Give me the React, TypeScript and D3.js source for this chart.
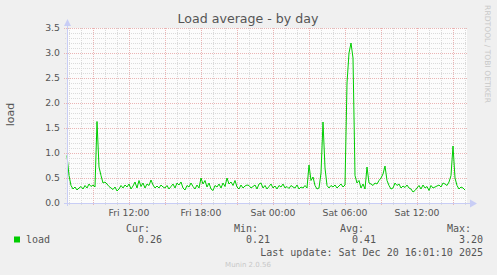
import React from "react";
import * as d3 from "d3";

const W = 497;
const H = 275;

const startTime = new Date(2025, 11, 19, 6, 50, 0);
const endTime = new Date(2025, 11, 20, 16, 10, 0);
const stepMinutes = 10;

const loadValues: number[] = [
  0.95, 0.55, 0.35, 0.28, 0.32, 0.26, 0.30, 0.33, 0.28, 0.35,
  0.30, 0.38, 0.33, 0.36, 0.32, 1.63, 0.72, 0.55, 0.40, 0.42,
  0.38, 0.33, 0.30, 0.27, 0.32, 0.24, 0.28, 0.35, 0.30, 0.36,
  0.32, 0.38, 0.28, 0.34, 0.42, 0.30, 0.45, 0.33, 0.40, 0.30,
  0.38, 0.35, 0.46, 0.36, 0.30, 0.34, 0.30, 0.36, 0.32, 0.30,
  0.35, 0.28, 0.33, 0.38, 0.30, 0.40, 0.36, 0.42, 0.30, 0.26,
  0.35, 0.32, 0.40, 0.33, 0.28, 0.36, 0.30, 0.50, 0.38, 0.45,
  0.32, 0.40, 0.28, 0.25, 0.35, 0.32, 0.38, 0.30, 0.40, 0.33,
  0.50, 0.38, 0.42, 0.35, 0.45, 0.32, 0.28, 0.36, 0.30, 0.34,
  0.36, 0.35, 0.30, 0.33, 0.36, 0.28, 0.38, 0.40, 0.30, 0.35,
  0.28, 0.33, 0.38, 0.30, 0.34, 0.28, 0.35, 0.32, 0.38, 0.30,
  0.33, 0.29, 0.35, 0.32, 0.30, 0.36, 0.28, 0.32, 0.30, 0.35,
  0.30, 0.76, 0.45, 0.52, 0.35, 0.28, 0.30, 0.60, 1.62, 0.70,
  0.35, 0.30, 0.35, 0.32, 0.36, 0.30, 0.34, 0.38, 0.32, 0.36,
  2.40, 3.00, 3.20, 2.90, 0.55, 0.40, 0.45, 0.30, 0.38, 0.28,
  0.72, 0.40, 0.38, 0.35, 0.40, 0.38, 0.45, 0.50, 0.58, 0.74,
  0.45, 0.35, 0.28, 0.30, 0.40, 0.35, 0.38, 0.30, 0.34, 0.31,
  0.36, 0.30, 0.28, 0.22, 0.25, 0.30, 0.35, 0.28, 0.36, 0.30,
  0.33, 0.25, 0.35, 0.30, 0.32, 0.34, 0.36, 0.32, 0.40, 0.38,
  0.35, 0.42, 0.55, 1.14, 0.50, 0.35, 0.28, 0.32, 0.30, 0.26,
];

const yTicks = [0.0, 0.5, 1.0, 1.5, 2.0, 2.5, 3.0, 3.5];
const xTickLabels = ["Fri 12:00", "Fri 18:00", "Sat 00:00", "Sat 06:00", "Sat 12:00"];
const legendHeaders = ["Cur:", "Min:", "Avg:", "Max:"];
const legendValues = ["0.26", "0.21", "0.41", "3.20"];
const titleText = "Load average - by day";
const lastUpdate = "Last update: Sat Dec 20 16:01:10 2025";

const SANS = "'DejaVu Sans', sans-serif";
const MONO = "'DejaVu Sans Mono', monospace";
const TEXT = "#555555";
const GREEN = "#00cc00";
const AXIS = "#c8cdf5";

export default function App() {
  const left = 67, right = 467, top = 28, bottom = 203;
  const x = d3.scaleTime().domain([startTime, endTime]).range([left, right]);
  const y = d3.scaleLinear().domain([0, 3.5]).range([bottom, top]);

  const points = loadValues.map((v, i) => ({
    t: new Date(startTime.getTime() + i * stepMinutes * 60000),
    v,
  }));
  const line = d3
    .line<{ t: Date; v: number }>()
    .x((d) => x(d.t))
    .y((d) => y(d.v));

  const hourTicks = d3.timeHour.every(1)!.range(startTime, endTime);
  const majorX = hourTicks.filter((d) => d.getHours() % 3 === 0);
  const minorX = hourTicks.filter((d) => d.getHours() % 3 !== 0);
  const labelX = hourTicks.filter((d) => d.getHours() % 6 === 0);
  const fmt = d3.timeFormat("%a %H:%M");

  const minorY = d3.range(0, 36).map((i) => i / 10).filter((v, i) => i % 5 !== 0);

  const colEnds = [162, 270, 376, 483];

  return (
    <svg width={W} height={H} style={{ position: "absolute", left: 0, top: 0 }}>
      <rect x={0} y={0} width={W} height={H} fill="#f0f0f0" />
      <rect x={left} y={top} width={right - left} height={bottom - top} fill="#fcfcfc" />

      {/* minor grid */}
      <g stroke="#dadada" strokeWidth={1} strokeDasharray="1,1" shapeRendering="crispEdges">
        {minorY.map((v) => (
          <line key={"my" + v} x1={left - 2} x2={right} y1={Math.round(y(v)) + 0.5} y2={Math.round(y(v)) + 0.5} />
        ))}
        {minorX.map((d) => (
          <line key={"mx" + d.getTime()} x1={Math.round(x(d)) + 0.5} x2={Math.round(x(d)) + 0.5} y1={top} y2={bottom + 2} />
        ))}
      </g>
      {/* major grid */}
      <g stroke="#eab4b4" strokeWidth={1} strokeDasharray="1,1" shapeRendering="crispEdges">
        {yTicks.slice(1).map((v) => (
          <line key={"My" + v} x1={left - 3} x2={right} y1={Math.round(y(v)) + 0.5} y2={Math.round(y(v)) + 0.5} />
        ))}
        {majorX.map((d) => (
          <line key={"Mx" + d.getTime()} x1={Math.round(x(d)) + 0.5} x2={Math.round(x(d)) + 0.5} y1={top} y2={bottom + 3} />
        ))}
      </g>

      {/* data line */}
      <path d={line(points) || ""} fill="none" stroke={GREEN} strokeWidth={1} />

      {/* axes */}
      <g stroke={AXIS} strokeWidth={1} shapeRendering="crispEdges">
        <line x1={left - 3} x2={right + 3} y1={bottom + 0.5} y2={bottom + 0.5} />
        <line x1={left + 0.5} x2={left + 0.5} y1={top - 3} y2={bottom + 3} />
      </g>
      <polygon points={`${left - 3},${top - 2} ${left + 4},${top - 2} ${left + 0.5},${top - 9}`} fill={AXIS} />
      <polygon points={`${right + 3},${bottom - 3.5} ${right + 3},${bottom + 4.5} ${right + 10},${bottom + 0.5}`} fill={AXIS} />

      {/* y tick labels */}
      <g fontFamily={SANS} fontSize={9.3} fill={TEXT} textAnchor="end">
        {yTicks.map((v) => (
          <text key={"yl" + v} x={60} y={y(v) + 3.4}>{v.toFixed(1)}</text>
        ))}
      </g>
      {/* x tick labels */}
      <g fontFamily={SANS} fontSize={9.3} fill={TEXT} textAnchor="middle">
        {labelX.map((d, i) => (
          <text key={"xl" + i} x={x(d)} y={216}>{xTickLabels[i] ?? fmt(d)}</text>
        ))}
      </g>

      {/* title */}
      <text x={248} y={23} textAnchor="middle" fontFamily={SANS} fontSize={12.6} fill={TEXT}>{titleText}</text>
      {/* y label */}
      <text transform="translate(14,114.5) rotate(-90)" textAnchor="middle" fontFamily={SANS} fontSize={11} fill={TEXT}>load</text>
      {/* watermark */}
      <text transform="translate(485,54) rotate(90)" textAnchor="middle" fontFamily={SANS} fontSize={7.6} fill="#c8c8c8">RRDTOOL / TOBI OETIKER</text>

      {/* legend */}
      <rect x={14} y={236.5} width={6} height={6} fill={GREEN} />
      <g fontFamily={MONO} fontSize={10} fill={TEXT}>
        <text x={26} y={243}>load</text>
        {legendHeaders.map((h, i) => (
          <text key={"lh" + i} x={colEnds[i] - 12} y={232} textAnchor="end">{h}</text>
        ))}
        {legendValues.map((v, i) => (
          <text key={"lv" + i} x={colEnds[i]} y={243} textAnchor="end">{v}</text>
        ))}
        <text x={483} y={255.5} textAnchor="end">{lastUpdate}</text>
      </g>
      <text x={248} y={267} textAnchor="middle" fontFamily={SANS} fontSize={7} fill="#c8c8c8">Munin 2.0.56</text>
    </svg>
  );
}
